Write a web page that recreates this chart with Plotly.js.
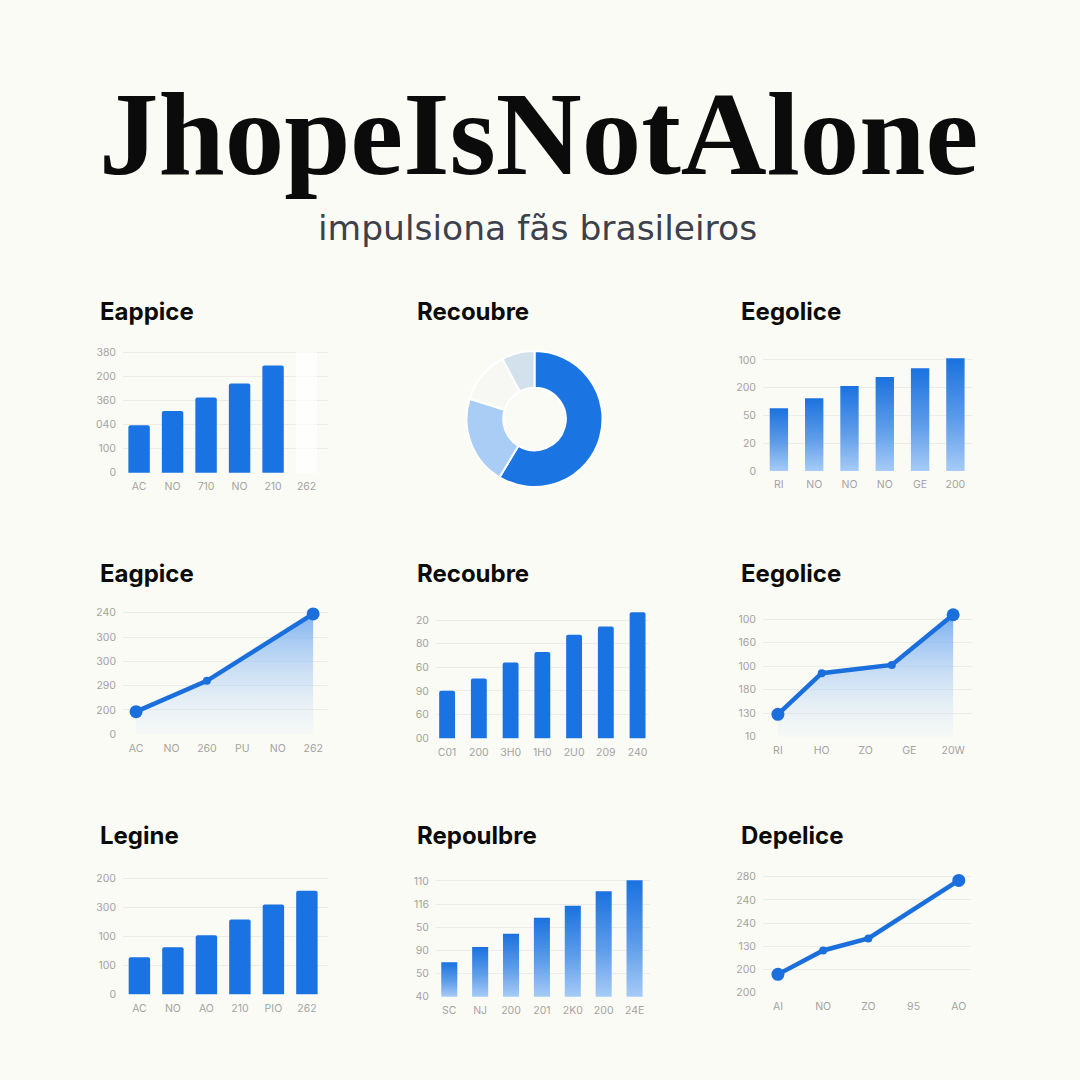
<!DOCTYPE html>
<html><head><meta charset="utf-8">
<script src="https://cdn.plot.ly/plotly-3.0.1.min.js"></script>
<style>html,body{margin:0;padding:0;background:#fbfbf5;} #chart{width:1080px;height:1080px;}</style>
</head><body><div id="chart"></div>
<script>
// ---------------- DATA ----------------
const mainTitle = 'JhopeIsNotAlone';
const subTitle = 'impulsiona fãs brasileiros';
const panelTitles = ['Eappice','Recoubre','Eegolice','Eagpice','Recoubre','Eegolice','Legine','Repoulbre','Depelice'];

// Chart 1 – bars
const c1Labels = ['AC','NO','710','NO','210','262'];
const c1Values = [197, 256, 312, 369, 444, null];
const c1Ghost  = [null, null, null, null, null, 500];
const c1YVals  = [0, 100, 200, 300, 400, 500];
const c1YText  = ['0','100','040','360','200','380'];

// Chart 2 – donut
const c2Labels = ['A','B','C','D'];
const c2Values = [58.6, 21.2, 12.4, 7.8];

// Chart 3 – gradient bars
const c3Labels = ['RI','NO','NO','NO','GE','200'];
const c3Values = [226, 262, 306, 339, 370, 406];
const c3YVals  = [0, 100, 200, 300, 400];
const c3YText  = ['0','20','50','200','100'];

// Chart 4 – area line
const c4Labels = ['AC','NO','260','PU','NO','262'];
const c4Values = [93, null, 220, null, null, 495];
const c4YVals  = [0, 100, 200, 300, 400, 500];
const c4YText  = ['0','200','290','300','300','240'];

// Chart 5 – bars
const c5Labels = ['C01','200','3H0','1H0','2U0','209','240'];
const c5Values = [20.1, 25.3, 32.0, 36.5, 43.8, 47.3, 53.3];
const c5YVals  = [0, 10, 20, 30, 40, 50];
const c5YText  = ['00','60','90','60','80','20'];

// Chart 6 – area line
const c6Labels = ['RI','HO','ZO','GE','20W'];
const c6PointPos = [0, 1, 2.6, 4];
const c6Values = [9.5, 27, 30.5, 51.8];
const c6YVals  = [0, 10, 20, 30, 40, 50];
const c6YText  = ['10','130','180','100','160','100'];

// Chart 7 – bars
const c7Labels = ['AC','NO','AO','210','PIO','262'];
const c7Values = [128, 162, 204, 258, 310, 357];
const c7YVals  = [0, 100, 200, 300, 400];
const c7YText  = ['0','100','100','300','200'];

// Chart 8 – gradient bars
const c8Labels = ['SC','NJ','200','201','2K0','200','24E'];
const c8Values = [14.9, 21.5, 27.2, 34.1, 39.3, 45.6, 50.3];
const c8YVals  = [0, 10, 20, 30, 40, 50];
const c8YText  = ['40','50','90','50','116','110'];

// Chart 9 – line
const c9Labels = ['AI','NO','ZO','95','AO'];
const c9Values = [7.9, 18.2, 23.4, null, 48.4];
const c9YVals  = [0, 10, 20, 30, 40, 50];
const c9YText  = ['200','200','130','240','240','280'];

// ---------------- STYLE / LAYOUT HELPERS ----------------
const W = 1080, H = 1080;
const BLUE = '#1a73e2';
const GRID = '#ecece8';
const tickFont = {family:'Inter, sans-serif', size:10.5, color:'#a3a3a3'};
const px = v => v / W;
const py = v => 1 - v / H;

const layout = {
  width: W, height: H, margin:{l:0,r:0,t:0,b:0},
  paper_bgcolor:'#fbfbf5', plot_bgcolor:'rgba(0,0,0,0)',
  showlegend:false, barmode:'overlay', annotations:[]
};
const traces = [];

function addAxes(n, g, labels, yVals, yText) {
  const unit = (g.yBase - g.yTop) / g.topVal;
  const rmin = -g.yMax * 0.006;
  const domTopPx = g.yBase - g.yMax * unit;
  const domBotPx = g.yBase - rmin * unit;
  layout['xaxis' + n] = {
    domain:[px(g.x0), px(g.x1)], range:g.xr, anchor:'y' + n,
    showgrid:false, zeroline:false, showline:false, ticks:'',
    tickmode:'array', tickvals:labels.map((_, i) => i), ticktext:labels,
    tickfont:tickFont, ticklabelstandoff:5, fixedrange:true
  };
  layout['yaxis' + n] = {
    domain:[py(domBotPx), py(domTopPx)], range:[rmin, g.yMax], anchor:'x' + n,
    showgrid:true, gridcolor:GRID, gridwidth:1, zeroline:false, showline:false, ticks:'',
    tickmode:'array', tickvals:yVals, ticktext:yText,
    tickfont:tickFont, ticklabelstandoff:6, fixedrange:true
  };
}

function solidBars(n, values, width, color) {
  traces.push({type:'bar', xaxis:'x'+n, yaxis:'y'+n,
    x:values.map((_, i) => i), y:values, width:width,
    marker:{color:color, cornerradius:2}, hoverinfo:'skip'});
}

function gradBars(n, values, width) {
  values.forEach((v, i) => {
    traces.push({type:'scatter', mode:'lines', xaxis:'x'+n, yaxis:'y'+n,
      x:[i - width/2, i - width/2, i + width/2, i + width/2, i - width/2],
      y:[0, v, v, 0, 0], fill:'toself',
      line:{width:0, color:'rgba(0,0,0,0)'},
      fillgradient:{type:'vertical', start:0, stop:v,
        colorscale:[[0,'#a6cbf6'],[0.45,'#5e9cea'],[1,'#1a72e0']]},
      hoverinfo:'skip'});
  });
}

function lineTrace(n, xs, ys, withFill, topVal) {
  const X = [], Y = [];
  ys.forEach((v, i) => { if (v !== null) { X.push(xs[i]); Y.push(v); } });
  const sizes = Y.map((_, i) => (i === 0 || i === Y.length - 1) ? 13 : 8);
  const t = {type:'scatter', mode:'lines+markers', xaxis:'x'+n, yaxis:'y'+n,
    x:X, y:Y, line:{color:'#1a6fdc', width:4.5},
    marker:{color:'#1a6fdc', size:sizes, opacity:1, line:{width:0}}, cliponaxis:false, hoverinfo:'skip'};
  if (withFill) {
    t.fill = 'tozeroy';
    t.fillgradient = {type:'vertical', start:0, stop:topVal,
      colorscale:[[0,'rgba(215,232,250,0.15)'],[1,'rgba(105,165,238,0.85)']]};
  }
  traces.push(t);
}

// ---------------- CHARTS ----------------
// 1
addAxes(1, {x0:123, x1:328, xr:[-0.48, 5.64], yBase:472.7, yTop:352, topVal:500, yMax:505}, c1Labels, c1YVals, c1YText);
traces.push({type:'bar', xaxis:'x1', yaxis:'y1', x:c1Ghost.map((_, i) => i), y:c1Ghost, width:0.62,
  marker:{color:'rgba(255,255,255,0.7)'}, hoverinfo:'skip'});
solidBars(1, c1Values, 0.64, BLUE);

// 2 donut
traces.push({type:'pie', labels:c2Labels, values:c2Values, sort:false, direction:'clockwise', rotation:0,
  hole:0.46, textinfo:'none', hoverinfo:'skip',
  marker:{colors:['#1a74e2','#a9cdf5','#f7f8f4','#d3e1ec'], line:{color:'#ffffff', width:2}},
  domain:{x:[px(534.5 - 68), px(534.5 + 68)], y:[py(419 + 68), py(419 - 68)]}});

// 3
addAxes(2, {x0:763, x1:972, xr:[-0.45, 5.47], yBase:471, yTop:360, topVal:400, yMax:415}, c3Labels, c3YVals, c3YText);
gradBars(2, c3Values, 0.52);

// 4
addAxes(3, {x0:123, x1:328, xr:[-0.37, 5.42], yBase:734.3, yTop:612.7, topVal:500, yMax:505}, c4Labels, c4YVals, c4YText);
lineTrace(3, c4Labels.map((_, i) => i), c4Values, true, 500);

// 5
addAxes(4, {x0:436, x1:649, xr:[-0.35, 6.36], yBase:738.3, yTop:620, topVal:50, yMax:54.5}, c5Labels, c5YVals, c5YText);
solidBars(4, c5Values, 0.5, BLUE);

// 6
addAxes(5, {x0:763, x1:972, xr:[-0.34, 4.43], yBase:736.7, yTop:619, topVal:50, yMax:52}, c6Labels, c6YVals, c6YText);
lineTrace(5, c6PointPos, c6Values, true, 50);

// 7
addAxes(6, {x0:123, x1:328, xr:[-0.49, 5.63], yBase:994.3, yTop:878.3, topVal:400, yMax:405}, c7Labels, c7YVals, c7YText);
solidBars(6, c7Values, 0.64, BLUE);

// 8
addAxes(7, {x0:436, x1:650, xr:[-0.43, 6.5], yBase:996.7, yTop:881, topVal:50, yMax:51}, c8Labels, c8YVals, c8YText);
gradBars(7, c8Values, 0.52);

// 9
addAxes(8, {x0:763, x1:971, xr:[-0.33, 4.27], yBase:992.7, yTop:876.7, topVal:50, yMax:51}, c9Labels, c9YVals, c9YText);
lineTrace(8, c9Labels.map((_, i) => i), c9Values, false, 50);

// ---------------- TEXT ----------------
layout.annotations.push({text:mainTitle, xref:'paper', yref:'paper', x:px(538), y:py(134),
  xanchor:'center', yanchor:'middle', showarrow:false,
  font:{family:'Liberation Serif, serif', size:119, weight:700, color:'#0b0b0b'}});
layout.annotations.push({text:subTitle, xref:'paper', yref:'paper', x:px(537), y:py(228),
  xanchor:'center', yanchor:'middle', showarrow:false,
  font:{family:'DejaVu Sans, sans-serif', size:34.5, color:'#3d414c'}});
const titleX = [98, 415, 739], titleY = [312, 573, 835];
panelTitles.forEach((t, i) => {
  layout.annotations.push({text:t, xref:'paper', yref:'paper',
    x:px(titleX[i % 3]), y:py(titleY[Math.floor(i / 3)]),
    xanchor:'left', yanchor:'middle', showarrow:false,
    font:{family:'Inter, sans-serif', size:24, weight:700, color:'#0b0b0b'}});
});

Plotly.newPlot('chart', traces, layout, {staticPlot:true, displayModeBar:false});
</script>
</body></html>
